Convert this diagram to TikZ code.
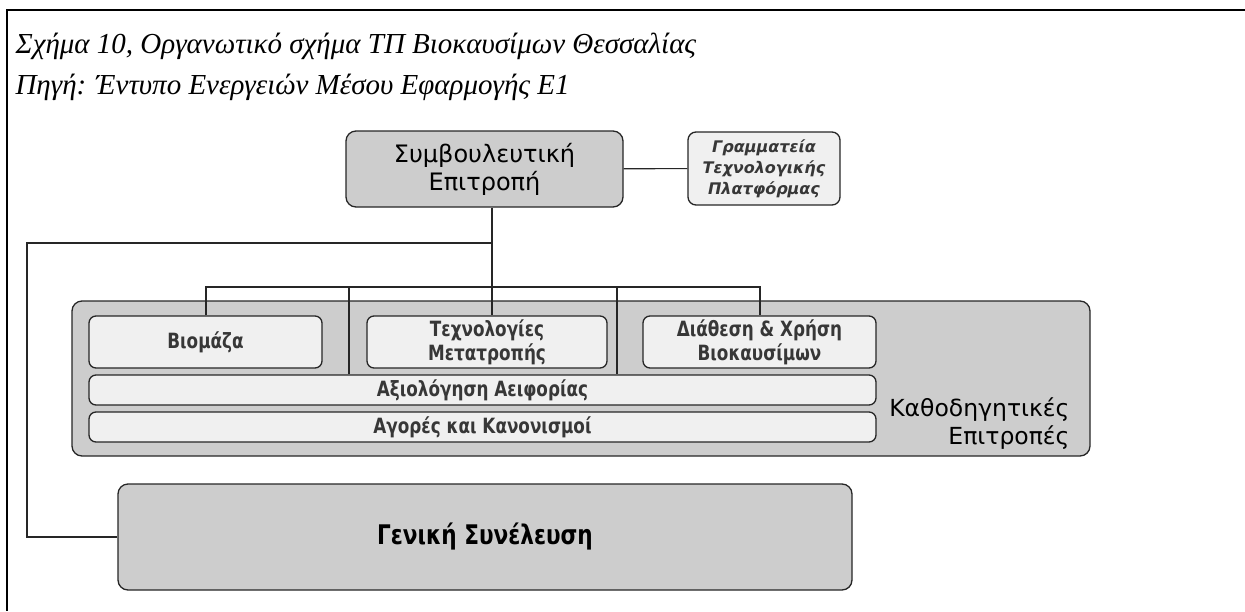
\documentclass[tikz,border=0pt]{standalone}
\usepackage{fontspec}
\setmainfont{Liberation Serif}
\newfontfamily\plainsans{DejaVu Sans}
\newfontfamily\narrowsans[FakeStretch=0.8]{DejaVu Sans}
\usetikzlibrary{calc}
\definecolor{panelgray}{RGB}{205,205,205}
\definecolor{cellgray}{RGB}{240,240,240}
\definecolor{inkgray}{RGB}{55,55,55}
\tikzset{
  orgbox/.style={draw=black!85,line width=1.3pt,rounded corners=10pt,fill=panelgray,inner sep=0pt,align=center},
  cellbox/.style={orgbox,fill=cellgray,rounded corners=7pt,text=inkgray,font=\narrowsans\bfseries\fontsize{21}{24}\selectfont},
  link/.style={line width=1.1pt,black!85}
}

\begin{document}
\begin{tikzpicture}[x=1pt,y=-1pt]
\useasboundingbox (0,0) rectangle (1245,611);
\draw[line width=2.5pt] (1245,10) -- (7,10) -- (7,611);
\node[anchor=base west,font=\itshape\fontsize{29}{35}\selectfont] (cap1) at (12,53) {Σχήμα 10, Οργανωτικό σχήμα ΤΠ Βιοκαυσίμων Θεσσαλίας};
\node[anchor=base west,font=\itshape\fontsize{29}{35}\selectfont] (cap2) at (12,94) {Πηγή: Έντυπο Ενεργειών Μέσου Εφαρμογής Ε1};

\node[orgbox,minimum width=277pt,minimum height=76pt,font=\plainsans\fontsize{24}{28}\selectfont] (board) at (484.5,169) {Συμβουλευτική\\Επιτροπή};
\node[orgbox,fill=cellgray,rounded corners=8pt,minimum width=152pt,minimum height=73pt,text=inkgray,font=\plainsans\bfseries\itshape\fontsize{16}{21}\selectfont] (secr) at (764,168.5) {Γραμματεία\\Τεχνολογικής\\Πλατφόρμας};

\node[orgbox,minimum width=1018pt,minimum height=155pt] (steer) at (581,378.5) {};
\node[cellbox,minimum width=233pt,minimum height=52pt] (bio) at (205.5,342) {Βιομάζα};
\node[cellbox,minimum width=240pt,minimum height=52pt] (tech) at (487,342) {Τεχνολογίες\\Μετατροπής};
\node[cellbox,minimum width=233pt,minimum height=52pt] (use) at (759.5,342) {Διάθεση \& Χρήση\\Βιοκαυσίμων};
\node[cellbox,minimum width=787pt,minimum height=30pt] (sust) at (482.5,390) {Αξιολόγηση Αειφορίας};
\node[cellbox,minimum width=787pt,minimum height=30pt] (market) at (482.5,427) {Αγορές και Κανονισμοί};
\node[anchor=east,align=right,font=\plainsans\fontsize{23.5}{28}\selectfont] (steerlbl) at (1073,424) {Καθοδηγητικές\\Επιτροπές};

\node[orgbox,minimum width=734pt,minimum height=106pt,font=\narrowsans\bfseries\fontsize{27}{30}\selectfont] (assembly) at (485,537) {Γενική Συνέλευση};

\coordinate (hub) at (492,243);
\coordinate (rail) at (27,243);
\coordinate (busL) at (206,287);
\coordinate (busR) at (760,287);
\coordinate (gapA) at (349,287);
\coordinate (gapB) at (617,287);
\draw[link] (board) -- (secr);
\draw[link] (board.south -| hub) -- (tech.north -| hub);
\draw[link] (hub) -- (rail) |- (assembly.west);
\draw[link] (bio.north -| busL) -- (busL) -- (busR) -- (use.north -| busR);
\draw[link] (gapA) -- (sust.north -| gapA);
\draw[link] (gapB) -- (sust.north -| gapB);
\end{tikzpicture}
\end{document}
